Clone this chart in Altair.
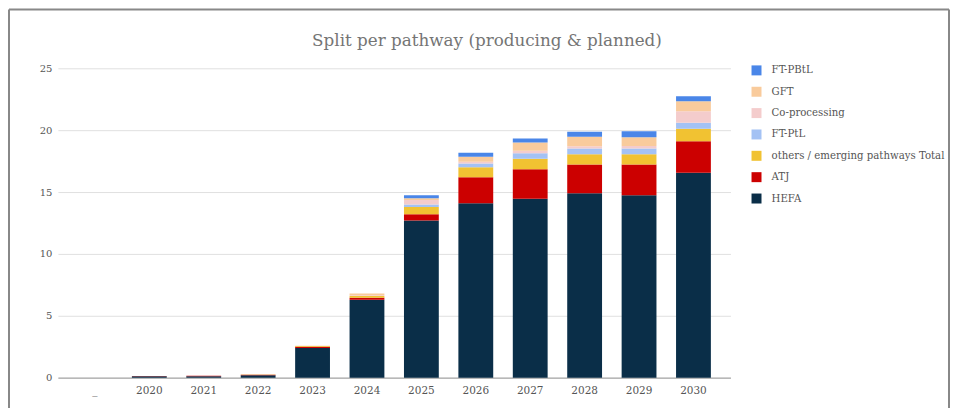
import altair as alt
import pandas as pd

years = ["_", "2020", "2021", "2022", "2023", "2024", "2025", "2026", "2027", "2028", "2029", "2030"]

# series values (bottom to top of each stack)
HEFA = [0, 0.12, 0.12, 0.20, 2.40, 6.30, 12.70, 14.10, 14.45, 14.90, 14.75, 16.56]
ATJ = [0, 0.01, 0.03, 0.04, 0.10, 0.15, 0.50, 2.10, 2.40, 2.33, 2.48, 2.54]
OTHERS = [0, 0, 0, 0.01, 0.05, 0.15, 0.60, 0.80, 0.83, 0.83, 0.83, 1.02]
FT_PTL = [0, 0, 0, 0, 0, 0, 0.20, 0.30, 0.45, 0.46, 0.46, 0.48]
COPROC = [0, 0, 0, 0, 0, 0.05, 0.35, 0.15, 0.20, 0.19, 0.20, 0.93]
GFT = [0, 0, 0, 0, 0.03, 0.15, 0.15, 0.40, 0.67, 0.75, 0.70, 0.81]
FT_PBTL = [0, 0, 0, 0, 0, 0, 0.25, 0.32, 0.33, 0.41, 0.50, 0.40]

stack_series = ["HEFA", "ATJ", "others / emerging pathways Total", "FT-PtL",
                "Co-processing", "GFT", "FT-PBtL"]
stack_values = [HEFA, ATJ, OTHERS, FT_PTL, COPROC, GFT, FT_PBTL]
legend_order = ["FT-PBtL", "GFT", "Co-processing", "FT-PtL",
                "others / emerging pathways Total", "ATJ", "HEFA"]
legend_colors = ["#4a86e8", "#f9cb9c", "#f4cccc", "#a4c2f4", "#f1c232", "#cc0000", "#0a2e48"]
title_text = ["Split per pathway (producing & planned)"]

rows = []
for k, (name, vals) in enumerate(zip(stack_series, stack_values)):
    for y, v in zip(years, vals):
        rows.append({"year": y, "series": name, "value": v, "ord": k})
df = pd.DataFrame(rows)

FONT = "DejaVu Serif"

bars = alt.Chart(df).mark_bar().encode(
    x=alt.X("year:N", sort=years, title=None,
            scale=alt.Scale(paddingInner=0.36, paddingOuter=0.36),
            axis=alt.Axis(labelAngle=0, ticks=False, domainColor="#999999",
                          labelColor="#555555", labelFontSize=10.5, labelFont=FONT,
                          labelPadding=8, grid=False)),
    y=alt.Y("value:Q", stack="zero", title=None,
            scale=alt.Scale(domain=[0, 25], nice=False),
            axis=alt.Axis(values=[0, 5, 10, 15, 20, 25], ticks=False, domain=False,
                          gridColor="#e0e0e0", labelColor="#555555", labelFontSize=10,
                          labelFont=FONT, labelPadding=6)),
    color=alt.Color("series:N",
                    scale=alt.Scale(domain=legend_order, range=legend_colors),
                    legend=alt.Legend(title=None, orient="none", legendX=695, legendY=-3,
                                      symbolType="square", symbolSize=100,
                                      symbolStrokeWidth=0, labelFont=FONT,
                                      labelFontSize=10.2, labelColor="#555555",
                                      labelLimit=0, rowPadding=10.4, labelOffset=10)),
    order=alt.Order("ord:Q", sort="ascending"),
)

title_df = pd.DataFrame({"t": title_text})
title = alt.Chart(title_df).mark_text(font=FONT, fontSize=16.8, color="#757575",
                                      align="center", baseline="alphabetic").encode(
    text="t:N", x=alt.value(430), y=alt.value(-22))

frame_df = pd.DataFrame({"k": [0]})
top_line = alt.Chart(frame_df).mark_rule(color="#888888", strokeWidth=2).encode(
    x=alt.value(-49), x2=alt.value(893), y=alt.value(-59))
left_line = alt.Chart(frame_df).mark_rule(color="#888888", strokeWidth=2).encode(
    x=alt.value(-49), y=alt.value(-59), y2=alt.value(345))
right_line = alt.Chart(frame_df).mark_rule(color="#888888", strokeWidth=2).encode(
    x=alt.value(893), y=alt.value(-59), y2=alt.value(345))

chart = alt.layer(bars, title, top_line, left_line, right_line).properties(
    width=674, height=310,
    autosize=alt.AutoSizeParams(type="none"),
    padding={"left": 50, "top": 60, "right": 220, "bottom": 30},
).configure_view(stroke=None).configure_axis(gridWidth=1)

chart.save("out.html", embed_options={"renderer": "svg", "actions": False})
